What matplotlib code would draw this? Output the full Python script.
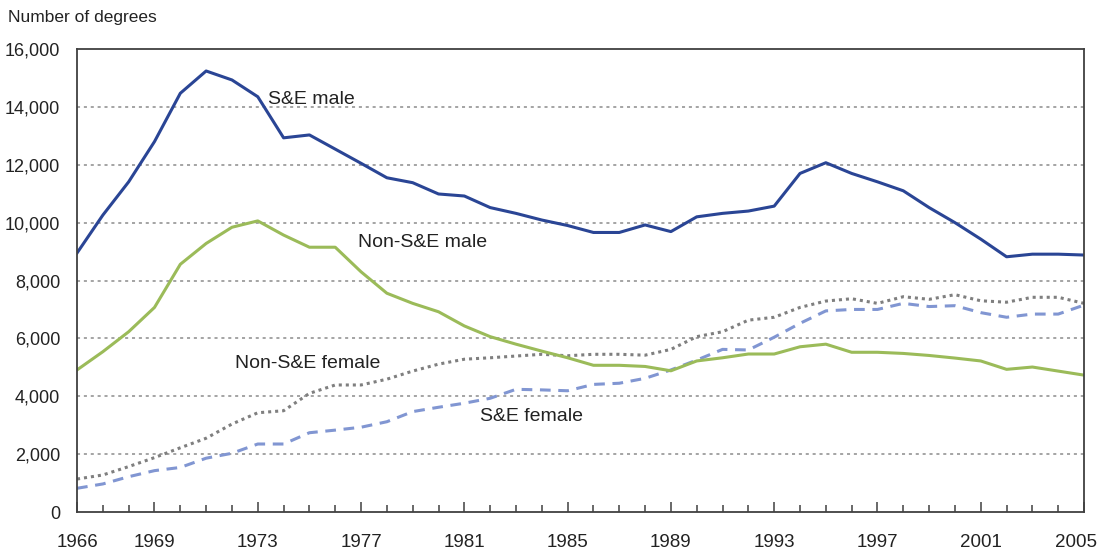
import numpy as np
import matplotlib.pyplot as plt
import matplotlib.transforms as mtransforms
from matplotlib.ticker import FuncFormatter, MultipleLocator

plt.rcParams['font.family'] = ['Liberation Sans', 'DejaVu Sans']

years = np.arange(1966, 2006)

se_male = [8950, 10260, 11410, 12800, 14470, 15240, 14930, 14350, 12930, 13030,
           12540, 12050, 11550, 11380, 10990, 10920, 10520, 10320, 10090, 9900,
           9660, 9660, 9920, 9690, 10200, 10320, 10400, 10570, 11700, 12070,
           11700, 11410, 11100, 10520, 10000, 9430, 8820, 8910, 8910, 8880]

nonse_male = [4910, 5540, 6230, 7070, 8560, 9280, 9840, 10060, 9570, 9150,
              9150, 8300, 7560, 7210, 6920, 6430, 6060, 5800, 5560, 5330,
              5070, 5070, 5030, 4880, 5220, 5330, 5460, 5460, 5710, 5800,
              5520, 5520, 5480, 5410, 5320, 5220, 4930, 5010, 4870, 4730]

nonse_female = [1140, 1280, 1570, 1880, 2220, 2550, 3040, 3430, 3500, 4100,
                4390, 4390, 4590, 4870, 5110, 5280, 5330, 5390, 5450, 5400,
                5450, 5450, 5420, 5620, 6060, 6230, 6630, 6730, 7070, 7290,
                7370, 7210, 7440, 7350, 7510, 7300, 7250, 7420, 7420, 7210]

se_female = [820, 970, 1220, 1430, 1540, 1860, 2030, 2350, 2350, 2740,
             2830, 2930, 3120, 3470, 3620, 3760, 3930, 4240, 4220, 4190,
             4410, 4450, 4620, 4910, 5250, 5620, 5600, 6040, 6520, 6950,
             7000, 7000, 7210, 7100, 7130, 6890, 6730, 6840, 6840, 7150]

tick_years = [1966, 1969, 1973, 1977, 1981, 1985, 1989, 1993, 1997, 2001, 2005]

fig = plt.figure(figsize=(11.02, 5.58), dpi=100)
ax = fig.add_axes([0.0699, 0.0824, 0.9138, 0.8298])

ax.plot(years, nonse_female, color='#7f7f7f', lw=2.2, linestyle=(0, (1, 1.3)))
ax.plot(years, se_female, color='#8196d2', lw=2.2, linestyle=(0, (3.5, 2.5)))
ax.plot(years, nonse_male, color='#9bbb59', lw=2.2)
ax.plot(years, se_male, color='#2a4595', lw=2.2)

ax.set_xlim(1966, 2005)
ax.set_ylim(0, 16000)
ax.yaxis.set_major_locator(MultipleLocator(2000))
ax.yaxis.set_major_formatter(FuncFormatter(lambda v, p: f'{int(v):,}'))
ax.set_xticks(tick_years)
ax.set_xticks(years, minor=True)

for y in range(2000, 16000, 2000):
    ax.axhline(y, color='#8c8c8c', lw=1.1, linestyle=(0, (2, 2.5)), zorder=0)

for s in ax.spines.values():
    s.set_color('#404040')
    s.set_linewidth(1.3)

ax.tick_params(axis='x', which='major', direction='in', length=7, width=1.1,
               color='#404040', labelsize=13.5, pad=16, labelcolor='#222222')
ax.tick_params(axis='x', which='minor', direction='in', length=5, width=1.1,
               color='#404040')
ax.tick_params(axis='y', length=0, labelsize=13, pad=12, labelcolor='#222222')

# pull the last year label a little inside the figure
last = ax.get_xticklabels()[-1]
shift = mtransforms.ScaledTranslation(-6 / 72, 0, fig.dpi_scale_trans)
last.set_transform(last.get_transform() + shift)

txt = dict(fontsize=14, color='#222222', va='center', ha='left')
ax.text(1973.4, 14250, 'S&E male', **txt)
ax.text(1976.9, 9300, 'Non-S&E male', **txt)
ax.text(1972.1, 5130, 'Non-S&E female', **txt)
ax.text(1981.6, 3300, 'S&E female', **txt)

fig.text(0.007, 0.968, 'Number of degrees', fontsize=12.5, color='#222222',
         va='center', ha='left')

fig.savefig('out.png', dpi=100)
